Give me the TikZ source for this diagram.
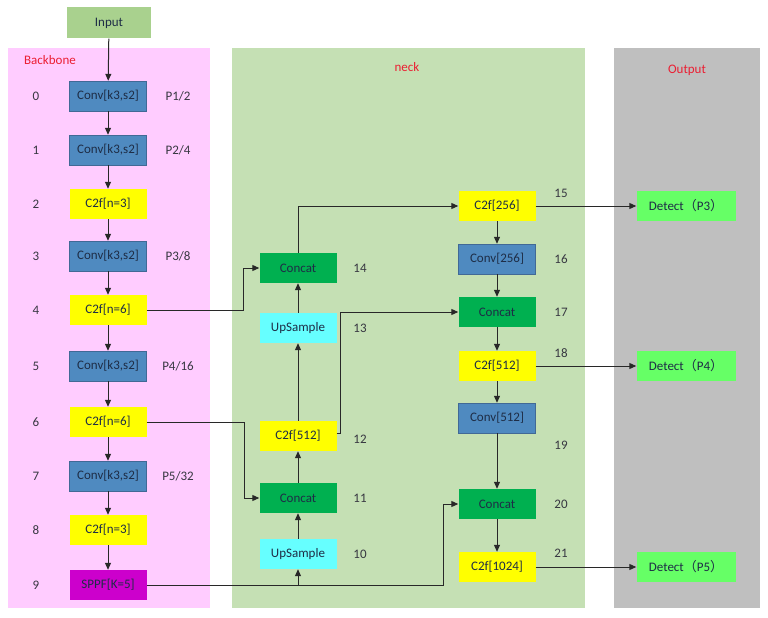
\documentclass[tikz,border=0pt]{standalone}
\usepackage{fontspec}
\setmainfont{Carlito}
\newfontfamily\cjk{Noto Sans CJK SC}
\usepackage{xcolor}
\usepackage{tikz}
\usetikzlibrary{arrows.meta}

\definecolor{bbpink}{RGB}{255,204,255}
\definecolor{neckgreen}{RGB}{197,224,180}
\definecolor{outgray}{RGB}{191,191,191}
\definecolor{convblue}{RGB}{79,138,192}
\definecolor{convline}{RGB}{65,105,150}
\definecolor{c2fyellow}{RGB}{255,255,0}
\definecolor{sppfpurple}{RGB}{204,0,204}
\definecolor{concatgreen}{RGB}{0,176,80}
\definecolor{upcyan}{RGB}{102,255,255}
\definecolor{detgreen}{RGB}{102,255,102}
\definecolor{inputgreen}{RGB}{169,209,142}
\definecolor{boxtext}{RGB}{30,45,70}
\definecolor{idxgray}{RGB}{55,55,65}
\definecolor{linegray}{RGB}{40,40,40}
\definecolor{panelred}{RGB}{235,30,50}

\newcommand{\lpar}{{\cjk （}}
\newcommand{\rpar}{{\cjk ）}}

\begin{document}
\begin{tikzpicture}[
  x = 1pt, y = -1pt,
  font = \fontsize{13}{15}\selectfont,
  every node/.style = {inner sep = 0pt},
  blk/.style = {minimum width = 77pt, minimum height = 30pt, text = boxtext},
  conv/.style = {blk, fill = convblue, draw = convline},
  c2f/.style = {blk, fill = c2fyellow},
  sppf/.style = {blk, fill = sppfpurple},
  concat/.style = {blk, fill = concatgreen},
  upsample/.style = {blk, fill = upcyan},
  detect/.style = {blk, minimum width = 99pt, fill = detgreen},
  idx/.style = {text = idxgray},
  title/.style = {text = panelred},
  arr/.style = {-{Triangle[length = 7pt, width = 6pt]}, line width = 1pt, draw = linegray}
  ]
  \useasboundingbox (0,0) rectangle (768,618);
  \fill[white] (0,0) rectangle (768,618);

  % panels
  \fill[bbpink] (8,48) rectangle (210,608);
  \fill[neckgreen] (232,48) rectangle (585,608);
  \fill[outgray] (614,48) rectangle (760,608);
  \node[title] (tbb) at (50,60) {Backbone};
  \node[title] (tneck) at (407,67) {neck};
  \node[title] (tout) at (687,70) {Output};

  \node[blk, fill = inputgreen, minimum width = 84pt, minimum height = 31pt] (inp) at (109,23) {Input};

  % backbone
  \node[conv] (b0) at (108,96) {Conv[k3,s2]};
  \node[conv] (b1) at (108,150) {Conv[k3,s2]};
  \node[c2f] (b2) at (108,204) {C2f[n=3]};
  \node[conv] (b3) at (108,256) {Conv[k3,s2]};
  \node[c2f] (b4) at (108,310) {C2f[n=6]};
  \node[conv] (b5) at (108,366) {Conv[k3,s2]};
  \node[c2f] (b6) at (108,422) {C2f[n=6]};
  \node[conv] (b7) at (108,476) {Conv[k3,s2]};
  \node[c2f] (b8) at (108,530) {C2f[n=3]};
  \node[sppf] (b9) at (108,585) {SPPF[K=5]};
  \foreach \i/\y in {0/96,1/150,2/204,3/256,4/310,5/366,6/422,7/476,8/530,9/585}
    \node[idx] (l\i) at (36,\y) {\i};
  \node[idx] (p1) at (178,96) {P1/2};
  \node[idx] (p2) at (178,150) {P2/4};
  \node[idx] (p3) at (178,256) {P3/8};
  \node[idx] (p4) at (178,366) {P4/16};
  \node[idx] (p5) at (178,476) {P5/32};

  % neck
  \node[concat] (n14) at (298,268) {Concat};
  \node[upsample] (n13) at (298,328) {UpSample};
  \node[c2f] (n12) at (298,436) {C2f[512]};
  \node[concat] (n11) at (298,498) {Concat};
  \node[upsample] (n10) at (298,554) {UpSample};
  \node[c2f] (n15) at (497,206) {C2f[256]};
  \node[conv] (n16) at (497,259) {Conv[256]};
  \node[concat] (n17) at (497,312) {Concat};
  \node[c2f] (n18) at (497,366) {C2f[512]};
  \node[conv] (n19) at (497,418) {Conv[512]};
  \node[concat] (n20) at (497,504) {Concat};
  \node[c2f] (n21) at (497,567) {C2f[1024]};
  \foreach \i/\y in {14/268,13/328,12/439,11/498,10/554}
    \node[idx] (l\i) at (360,\y) {\i};
  \foreach \i/\y in {15/193,16/259,17/312,18/353,19/445,20/504,21/553}
    \node[idx] (l\i) at (561,\y) {\i};

  % output
  \node[detect] (det3) at (686,206) {Detect\lpar P3\rpar};
  \node[detect] (det4) at (686,366) {Detect\lpar P4\rpar};
  \node[detect] (det5) at (686,567) {Detect\lpar P5\rpar};

  % connectors
  \draw[arr] (inp) -- (b0);
  \foreach \a/\b in {0/1,1/2,2/3,3/4,4/5,5/6,6/7,7/8,8/9}
    \draw[arr] (b\a) -- (b\b);
  \foreach \a/\b in {10/11,11/12,12/13,13/14}
    \draw[arr] (n\a) -- (n\b);
  \foreach \a/\b in {15/16,16/17,17/18,18/19,19/20,20/21}
    \draw[arr] (n\a) -- (n\b);
  \draw[arr] (b4.east) -- ++(97,0) |- (n14.west);
  \draw[arr] (b6.east) -- ++(98,0) |- (n11.west);
  \draw[arr] (b9.east) -- ++(297,0) |- (n20.west);
  \draw[arr] (n10.south |- b9.east) -- (n10.south);
  \draw[arr] (n14.north) |- (n15.west);
  \draw[arr] (n12.east) ++(0,-3) -- ++(4,0) |- (n17.west);
  \draw[arr] (n15) -- (det3);
  \draw[arr] (n18) -- (det4);
  \draw[arr] (n21) -- (det5);
\end{tikzpicture}
\end{document}
